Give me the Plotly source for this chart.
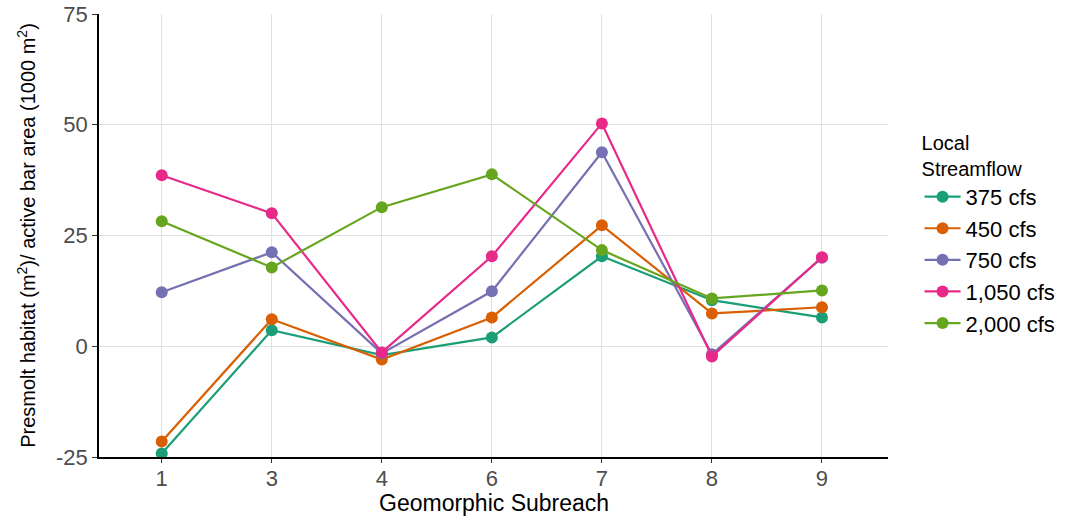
import plotly.graph_objects as go

subreach = ["1", "3", "4", "6", "7", "8", "9"]
series_names = ["375 cfs", "450 cfs", "750 cfs", "1,050 cfs", "2,000 cfs"]
v375 = [-24.2, 3.6, -2.0, 2.0, 20.3, 10.4, 6.5]
v450 = [-21.5, 6.1, -3.0, 6.5, 27.3, 7.4, 8.8]
v750 = [12.2, 21.2, -1.6, 12.4, 43.8, -1.8, 20.0]
v1050 = [38.6, 30.0, -1.4, 20.3, 50.3, -2.3, 20.1]
v2000 = [28.2, 17.8, 31.4, 38.8, 21.7, 10.8, 12.6]
colors = ["#1b9e77", "#d95f02", "#7570b3", "#e7298a", "#66a61e"]
y_ticks = [-25, 0, 25, 50, 75]
y_ticktext = ["-25", "0", "25", "50", "75"]

fig = go.Figure()
for name, vals, c in zip(series_names, [v375, v450, v750, v1050, v2000], colors):
    fig.add_trace(go.Scatter(
        x=subreach, y=vals, name=name, mode="lines+markers",
        line=dict(color=c, width=2.2),
        marker=dict(color=c, size=12),
    ))

font_family = "Liberation Sans, Arial, sans-serif"
fig.update_layout(
    width=1075, height=516,
    margin=dict(l=99, r=187, t=14, b=59),
    paper_bgcolor="white", plot_bgcolor="white",
    font=dict(family=font_family, color="#000000"),
    legend=dict(
        title=dict(text="Local<br>Streamflow", font=dict(size=20, color="#000000")),
        font=dict(size=22, color="#000000"),
        x=1.04, xanchor="left", y=0.752, yanchor="top",
        tracegroupgap=0, itemwidth=36,
    ),
    xaxis=dict(
        type="category", range=[-0.57, 6.6], automargin=False,
        showgrid=True, gridcolor="#e0e0e0", gridwidth=1,
        showline=True, linecolor="#000000", linewidth=1.5,
        ticks="outside", ticklen=4, tickcolor="#333333",
        ticklabelstandoff=-3,
        tickfont=dict(size=22, color="#4d4d4d"),
        zeroline=False,
    ),
    yaxis=dict(
        range=[-25, 75], tickvals=y_ticks, ticktext=y_ticktext, automargin=False,
        ticklabeloverflow="allow",
        showgrid=True, gridcolor="#e0e0e0", gridwidth=1,
        showline=True, linecolor="#000000", linewidth=1.5,
        ticks="outside", ticklen=5, tickcolor="#333333",
        tickfont=dict(size=22, color="#4d4d4d"),
        title=dict(text="Presmolt habitat (m<sup>2</sup>)/ active bar area (1000 m<sup>2</sup>)",
                   font=dict(size=20, color="#000000")),
        zeroline=False,
    ),
    annotations=[dict(
        text="Geomorphic Subreach", xref="paper", yref="paper",
        x=0.5, y=-0.104, xanchor="center", yanchor="middle",
        showarrow=False, font=dict(size=23, color="#000000"),
    )],
)

fig.write_html("out.html", config={"displayModeBar": False},
               post_script="document.body.style.margin='0px';")
